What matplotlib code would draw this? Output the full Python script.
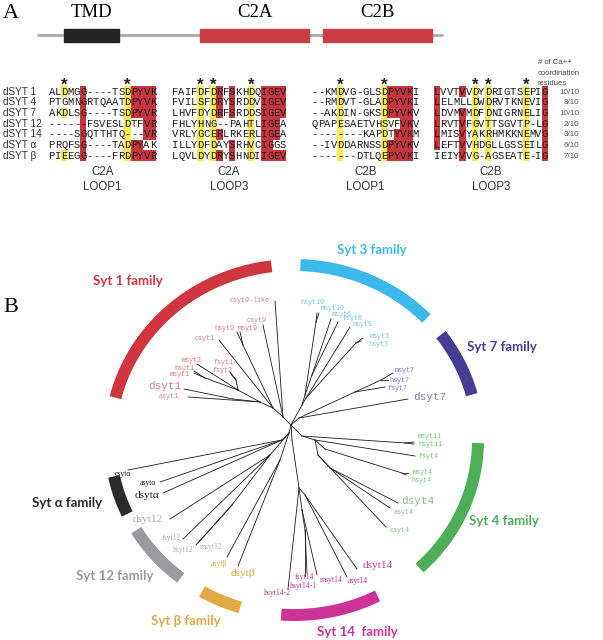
import numpy as np
import matplotlib.pyplot as plt
from matplotlib.patches import Rectangle

# ---------------- panel A data ----------------
row_names = ['dSYT 1', 'dSYT 4', 'dSYT 7', 'dSYT 12', 'dSYT 14', 'dSYT α', 'dSYT β']
ca_counts = ['10/10', '8/10', '10/10', '2/10', '3/10', '6/10', '7/10']

c2a_loop1 = ['ALDMGG----TSDPYVK', 'PTGMNGRTQAATDPYVK', 'AKDLSG----TSDPYVR', '------FSVESLDTFVR',
             '----SGQTTHTQ---VR', 'PRQFSG----TADPYAK', 'PIEEGG----FRDPYVR']
c2a_loop1_hl = ['..y..r......yrrrr', '.....r......yrrrr', '..y..r......yrrrr', '.....r......y..rr',
                '.....r......y..rr', '.....r......yrr..', '..y..r......yrrrr']
c2a_loop3 = ['FAIFDFDRFSKHDQIGEV', 'FVILSFDRYSRDDVIGEV', 'LHVFDYDRFSRDDSIGEV', 'FHLYHNG--PAHTLIGEA',
             'VRLYGCERLRKERLIGEA', 'ILLYDFDAYSRHVCIGGS', 'LQVLDYDRYSHNDIIGEV']
c2a_loop3_hl = ['....y.yr.r..y.rrrr', '....y.yr.r..y.rrrr', '....y.yr.r..y.rrrr', '....y.y.....y.rrr.',
                '....y.yr....y.rrr.', '....y.y..r..y.rr..', '....y.yr.r..y.rrrr']
c2b_loop1 = ['--KMDVG-GLSDPYVKI', '--RMDVT-GLADPYVKI', '--AKDIN-GKSDPYVKV', 'QPAPESAETVHSVFVKV',
             '--------KAPDTYVKM', '--IVDDARNSSDPYVKV', '-------DTLQEPYVKI']
c2b_loop1_hl = ['....y......yrrrr.', '....y......yrrrr.', '....y......yrrrr.', '....y......y..rr.',
                '....y......y.rrr.', '....y......yrrrr.', '....y......yrrrr.']
c2b_loop3 = ['LVVTVVDYDRIGTSEPIG', 'LELMLLDWDRVTKNEVIG', 'LDVMVMDFDNIGRNELIG', 'LRVTVFGVTTSGVTP-LG',
             'LMISVYAKRHMKKNEMVG', 'LEFTVVHDGLLGSSEILG', 'IEIYVVG-AGSEATE-IG']
c2b_loop3_hl = ['r...r.y.y.....y..r', 'r.....y.y.....y..r', 'r...r.y.y.....y..r', 'r...r.y.y.....y..r',
                'r...r.y.y.....y..r', 'r...r.y.y.....y..r', '....r.y.y.....y..r']
block_titles = ['C2A\nLOOP1', 'C2A\nLOOP3', 'C2B\nLOOP1', 'C2B\nLOOP3']
block_stars = [[2, 12], [4, 6, 12], [4, 11], [6, 8, 14]]

domain_names = ['TMD', 'C2A', 'C2B']
domain_start = [64, 200, 323]
domain_end = [119, 309, 432]
protein_span = [37, 443]

# ---------------- panel B data (tree) ----------------
# internal nodes: name -> (x, y, parent)
tree_nodes = {
    'R': (291, 425, None), 'L': (289, 433, 'R'),
    'S1': (283, 417, 'R'), 'S1a': (273, 408, 'S1'), 'P9': (243, 345, 'S1a'), 'S1b': (260, 402, 'S1a'),
    'S1c': (238, 390, 'S1b'), 'M1': (205, 378, 'S1c'), 'F1': (236, 380, 'S1c'), 'S1d': (233, 399, 'S1b'),
    'S3': (302, 405, 'R'), 'S3a': (305, 395, 'S3'), 'N10': (316, 322, 'S3a'), 'N6': (312, 375, 'S3a'),
    'S3b': (306, 398, 'S3'), 'N3': (356, 343, 'S3b'),
    'S7': (299, 418, 'R'), 'N7': (355, 392, 'S7'), 'N7b': (381, 380, 'N7'),
    'S4': (302, 436, 'R'), 'N11': (405, 443, 'S4'), 'S4b': (315, 440, 'S4'), 'S4c': (325, 449, 'S4b'),
    'N4m': (402, 473, 'S4c'), 'S4d': (318, 455, 'S4b'), 'S4e': (330, 468, 'S4d'),
    'S14': (292, 440, 'R'), 'S14a': (299, 488, 'S14'), 'S14b': (302, 510, 'S14a'),
    'N14f': (305, 530, 'S14b'), 'S14c': (305, 495, 'S14a'),
    'Sb': (280, 460, 'L'), 'S12': (270, 455, 'L'), 'N12': (232, 505, 'S12'), 'Sa': (282, 440, 'L'),
}

leaf_names = ['csyt9-like', 'csyt9', 'hsyt9', 'msyt9', 'csyt1', 'msyt2', 'hsyt1', 'msyt1', 'fsyt1', 'fsyt2',
              'dsyt1', 'asyt1',
              'hsyt10', 'msyt10', 'msyt6', 'fsyt6', 'msyt5', 'msyt3', 'hsyt3',
              'msyt7', 'hsyt7', 'fsyt7', 'dsyt7',
              'msyt11', 'hsyt11', 'fsyt4', 'msyt4', 'hsyt4', 'dsyt4', 'asyt4', 'csyt4',
              'dsyt14', 'asyt14', 'msyt14', 'fsyt14', 'hsyt14-1', 'hsyt14-2',
              'asytβ', 'dsytβ',
              'dsyt12', 'fsyt12', 'hsyt12', 'msyt12',
              'csytα', 'asytα', 'dsytα']
leaf_family = ['1'] * 12 + ['3'] * 7 + ['7'] * 4 + ['4'] * 8 + ['14'] * 6 + ['b'] * 2 + ['12'] * 4 + ['a'] * 3
leaf_parent = ['S1', 'S1', 'P9', 'P9', 'S1a', 'S1c', 'M1', 'M1', 'F1', 'F1', 'S1d', 'S1b',
               'N10', 'N10', 'N6', 'N6', 'S3b', 'N3', 'N3',
               'N7b', 'N7b', 'N7', 'S7',
               'N11', 'N11', 'S4b', 'N4m', 'N4m', 'S4e', 'S4e', 'S4d',
               'S14c', 'S14c', 'S14b', 'N14f', 'N14f', 'S14a',
               'Sb', 'Sb',
               'S12', 'S12', 'N12', 'N12',
               'Sa', 'Sa', 'Sa']
leaf_tip_x = [275, 263, 237, 240, 219, 197, 194, 194, 230, 231, 184, 188,
              317, 319, 331, 338, 350, 363, 361,
              393, 388, 385, 408,
              414, 414, 415, 408, 406, 398, 390, 386,
              357, 347, 317, 307, 305, 288,
              227, 238,
              170, 183, 196, 198,
              128, 160, 163]
leaf_tip_y = [301, 325, 332, 332, 340, 364, 371, 373, 372, 374, 389, 397,
              313, 313, 319, 322, 327, 338, 341,
              373, 380, 387, 399,
              442, 444, 456, 473, 475, 503, 508, 527,
              569, 577, 575, 573, 576, 589,
              557, 566,
              519, 539, 545, 543,
              470, 482, 493]
leaf_label_x = [250, 257, 224, 248, 205, 192, 184, 180, 223, 222, 165, 169,
                312, 333, 342, 352, 363, 380, 378,
                405, 399, 397, 430,
                430, 430, 428, 423, 421, 418, 404, 400,
                378, 358, 331, 304, 303, 277,
                219, 243,
                148, 171, 183, 211,
                123, 148, 147]
leaf_label_y = [301, 321, 329, 329, 338, 361, 368, 375, 363, 371, 386, 397,
                303, 308, 314, 319, 325, 336, 345,
                371, 380, 388, 397,
                437, 444, 457, 472, 481, 501, 512, 530,
                566, 581, 580, 577, 586, 593,
                564, 573,
                520, 538, 550, 547,
                474, 483, 495]

family_names = ['1', '3', '7', '4', '14', 'b', '12', 'a']
family_titles = ['Syt 1 family', 'Syt 3 family', 'Syt 7 family', 'Syt 4 family',
                 'Syt 14  family', 'Syt β family', 'Syt 12 family', 'Syt α family']
family_colors = ['#cf3640', '#3cb9ec', '#463d93', '#4cae57', '#cc3398', '#e1a845', '#9b9b9f', '#2b2b2b']
label_colors = ['#d77c7f', '#74c6ec', '#7f7dbd', '#7cc276', '#c8359a', '#e0a443', '#ababab', '#222222']
family_arc_from = [97, 44, 15, -47, -94, -120, -149, 192]
family_arc_to = [166, 88, 37, -1, -63, -107, -128, 205]
family_title_x = [128, 372, 502, 504, 357, 186, 115, 67]
family_title_y = [281, 250, 347, 521, 632, 621, 576, 503]
serif_families = ['14', 'b', '12', 'a']

# ---------------- figure ----------------
fig = plt.figure(figsize=(6.03, 6.4), dpi=100)
ax = fig.add_axes([0, 0, 1, 1])
ax.set_xlim(0, 603)
ax.set_ylim(640, 0)
ax.axis('off')

mono = 'Liberation Mono'
sans = 'Liberation Sans'
serif = 'Liberation Serif'

# panel A: domain diagram
ax.text(3, 13, 'A', fontsize=16, family=serif, va='center', ha='left')
ax.plot(protein_span, [35, 35], color='#a9a9a9', lw=2, solid_capstyle='butt', zorder=1)
for name, s, e in zip(domain_names, domain_start, domain_end):
    col = '#232323' if name == 'TMD' else '#cc3c43'
    ax.add_patch(Rectangle((s, 28.5), e - s, 13.5, color=col, zorder=2))
    ax.text((s + e) / 2, 12.5, name, fontsize=13.5, family=serif, ha='center', va='center')

ax.text(538, 63, '# of Ca++', fontsize=5.5, family=sans, color='#444444', va='center')
ax.text(538, 73.5, 'coordination', fontsize=5.5, family=sans, color='#444444', va='center')
ax.text(538, 83.5, 'residues', fontsize=5.5, family=sans, color='#444444', va='center')

# alignment
cw = 6.33
rh = 10.67
row_y = 91.7 + rh * np.arange(len(row_names))
block_x0 = [48.5, 172, 311.5, 434]
blocks = [c2a_loop1, c2a_loop3, c2b_loop1, c2b_loop3]
marks = [c2a_loop1_hl, c2a_loop3_hl, c2b_loop1_hl, c2b_loop3_hl]
hl_colors = {'y': '#f6ec4c', 'r': '#c9353f'}

for i, name in enumerate(row_names):
    ax.text(3, row_y[i], name, fontsize=7.2, family=sans, color='#333333', va='center', ha='left')
    ax.text(579, row_y[i] + 0.5, ca_counts[i], fontsize=5.8, family=sans, color='#555555',
            va='center', ha='right')

for b, (seqs, hls, x0) in enumerate(zip(blocks, marks, block_x0)):
    for i, (seq, hl) in enumerate(zip(seqs, hls)):
        for j, (ch, m) in enumerate(zip(seq, hl)):
            x = x0 + j * cw
            if m in hl_colors:
                ax.add_patch(Rectangle((x, row_y[i] - rh / 2), cw, rh, color=hl_colors[m], lw=0, zorder=1))
            ax.text(x + cw / 2, row_y[i], ch, fontsize=7.6, family=mono, ha='center', va='center',
                    color='#1a1a1a', zorder=3)
    for j in block_stars[b]:
        ax.text(x0 + (j + 0.5) * cw, 90, '*', fontsize=12, family=sans, fontweight='bold',
                ha='center', va='baseline', color='#222222')
    xc = x0 + len(seqs[0]) * cw / 2
    t1, t2 = block_titles[b].split('\n')
    ax.text(xc, 171.7, t1, fontsize=8.3, family=sans, ha='center', va='center', color='#333333')
    ax.text(xc, 186.7, t2, fontsize=8.3, family=sans, ha='center', va='center', color='#333333')

# panel B
ax.text(3, 308, 'B', fontsize=16, family=serif, va='center', ha='left')

cx, cy, rx, ry = 294, 440, 184, 175
for fam, c, a0, a1, title, tx, ty in zip(family_names, family_colors, family_arc_from, family_arc_to,
                                          family_titles, family_title_x, family_title_y):
    t = np.radians(np.linspace(a0, a1, 80))
    ax.plot(cx + rx * np.cos(t), cy - ry * np.sin(t), color=c, lw=8.6, solid_capstyle='butt', zorder=2)
    ax.text(tx, ty, title, fontsize=9.5, family=['Lato', 'DejaVu Sans'], fontweight='bold', color=c,
            ha='center', va='center')

# tree edges
for name, (x, y, p) in tree_nodes.items():
    if p is not None:
        px, py, _ = tree_nodes[p]
        ax.plot([px, x], [py, y], color='#1a1a1a', lw=0.6, zorder=3)

for i, name in enumerate(leaf_names):
    px, py, _ = tree_nodes[leaf_parent[i]]
    ax.plot([px, leaf_tip_x[i]], [py, leaf_tip_y[i]], color='#1a1a1a', lw=0.6, zorder=3)
    fam = leaf_family[i]
    col = label_colors[family_names.index(fam)]
    big = name.startswith('d')
    if fam in serif_families:
        fs = 8.2 if big else 5.6
        fam_font = serif
    else:
        fs = 8.0 if big else 4.9
        fam_font = mono
    ax.text(leaf_label_x[i], leaf_label_y[i], name, fontsize=fs, family=fam_font, color=col,
            ha='center', va='center', zorder=4)

plt.savefig('out.png', dpi=100)
